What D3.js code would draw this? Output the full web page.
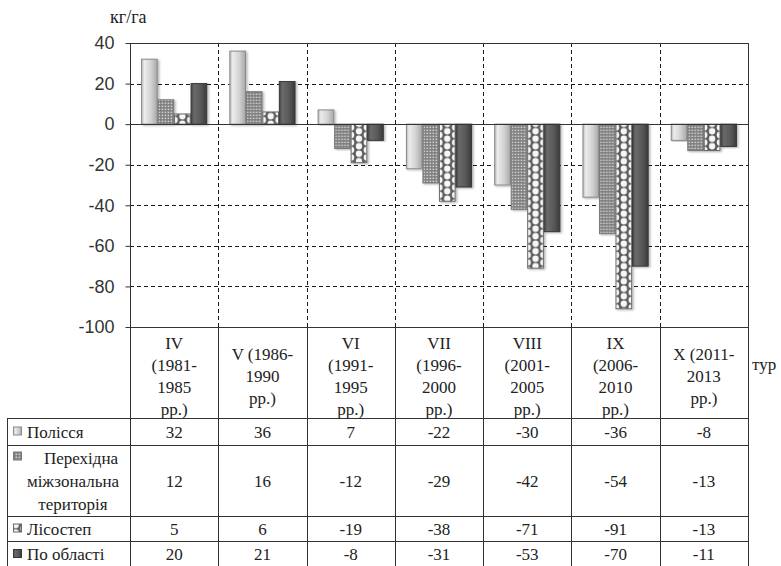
<!DOCTYPE html>
<html>
<head>
<meta charset="utf-8">
<script src="https://cdn.jsdelivr.net/npm/d3@7"></script>
<style>
  html, body { margin: 0; padding: 0; background: #fff; }
  svg { display: block; }
  .serif { font-family: "Liberation Serif", "Times New Roman", serif; }
  .sans { font-family: "Liberation Sans", Arial, sans-serif; }
</style>
</head>
<body>
<svg id="chart" width="781" height="566"></svg>
<script>
// Tour labels (multi-line, as printed under each group)
const categoryLines = [
  ["IV", "(1981-", "1985", "рр.)"],
  ["V (1986-", "1990", "рр.)"],
  ["VI", "(1991-", "1995", "рр.)"],
  ["VII", "(1996-", "2000", "рр.)"],
  ["VIII", "(2001-", "2005", "рр.)"],
  ["IX", "(2006-", "2010", "рр.)"],
  ["X (2011-", "2013", "рр.)"]
];

// Series names (row headers of the data table)
const seriesNames = [
  ["Полісся"],
  ["Перехідна", "міжзональна", "територія"],
  ["Лісостеп"],
  ["По області"]
];

// Balance values, kg/ha
const polissia   = [32, 36, 7, -22, -30, -36, -8];
const perekhidna = [12, 16, -12, -29, -42, -54, -13];
const lisostep   = [5, 6, -19, -38, -71, -91, -13];
const oblast     = [20, 21, -8, -31, -53, -70, -11];

const yTicks = [-100, -80, -60, -40, -20, 0, 20, 40];
const yUnit = "кг/га";
const xUnit = "тур";

const series = [polissia, perekhidna, lisostep, oblast];

const svg = d3.select("#chart");
const plot = { left: 130, right: 748, top: 43, bottom: 327 };
const ink = "#222";
const fmt = v => String(v).replace("\u2212", "-");

const y = d3.scaleLinear().domain([-100, 40]).range([plot.bottom, plot.top]);
const x0 = d3.scaleBand().domain(d3.range(categoryLines.length))
  .range([plot.left, plot.right]).padding(0);
const x1 = d3.scaleBand().domain(d3.range(series.length))
  .range([0, x0.bandwidth()]).paddingInner(0.05).paddingOuter(0.7);
const bw = x1.bandwidth();

// ---------- fills ----------
const defs = svg.append("defs");

const gLight = defs.append("linearGradient").attr("id", "fillLight")
  .attr("x1", "0").attr("x2", "1").attr("y1", "0").attr("y2", "0");
gLight.append("stop").attr("offset", "0").attr("stop-color", "#b9b9b9");
gLight.append("stop").attr("offset", "0.18").attr("stop-color", "#ececec");
gLight.append("stop").attr("offset", "0.6").attr("stop-color", "#d2d2d2");
gLight.append("stop").attr("offset", "1").attr("stop-color", "#a8a8a8");

const gDark = defs.append("linearGradient").attr("id", "fillDark")
  .attr("x1", "0").attr("x2", "1").attr("y1", "0").attr("y2", "0");
gDark.append("stop").attr("offset", "0").attr("stop-color", "#444");
gDark.append("stop").attr("offset", "0.2").attr("stop-color", "#6a6a6a");
gDark.append("stop").attr("offset", "0.65").attr("stop-color", "#575757");
gDark.append("stop").attr("offset", "1").attr("stop-color", "#3a3a3a");

const pDots = defs.append("pattern").attr("id", "fillDots")
  .attr("patternUnits", "userSpaceOnUse").attr("width", 3).attr("height", 3);
pDots.append("rect").attr("width", 3).attr("height", 3).attr("fill", "#7e7e7e");
pDots.append("rect").attr("x", 0.6).attr("y", 0.6).attr("width", 1.5).attr("height", 1.5).attr("fill", "#d6d6d6");

const lh = 7.5;
const pLattice = defs.append("pattern").attr("id", "fillLattice")
  .attr("patternUnits", "userSpaceOnUse").attr("width", bw).attr("height", lh);
pLattice.append("rect").attr("width", bw).attr("height", lh).attr("fill", "#5a5a5a");
[[bw / 2, lh / 2], [0, 0], [bw, 0], [0, lh], [bw, lh]].forEach(([cx, cy]) => {
  pLattice.append("circle").attr("cx", cx).attr("cy", cy).attr("r", 3.2).attr("fill", "#f6f6f6");
});

const shadow = defs.append("filter").attr("id", "shadow")
  .attr("x", "-30%").attr("y", "-10%").attr("width", "160%").attr("height", "120%");
shadow.append("feDropShadow").attr("dx", 1.5).attr("dy", 1).attr("stdDeviation", 0.8)
  .attr("flood-color", "#000").attr("flood-opacity", 0.3);

const styles = [
  { fill: "url(#fillLight)", stroke: "#8a8a8a" },
  { fill: "url(#fillDots)", stroke: "#7a7a7a" },
  { fill: "url(#fillLattice)", stroke: "#6a6a6a" },
  { fill: "url(#fillDark)", stroke: "#383838" }
];

// ---------- gridlines ----------
const grid = svg.append("g").attr("stroke", "#1a1a1a").attr("stroke-width", 1)
  .attr("stroke-dasharray", "4,3");
yTicks.filter(t => t !== 0 && t !== 40 && t !== -100).forEach(t => {
  grid.append("line").attr("x1", plot.left).attr("x2", plot.right)
    .attr("y1", Math.round(y(t)) + 0.5).attr("y2", Math.round(y(t)) + 0.5);
});
d3.range(1, categoryLines.length).forEach(i => {
  const xx = Math.round(x0(i)) + 0.5;
  grid.append("line").attr("x1", xx).attr("x2", xx).attr("y1", plot.top).attr("y2", plot.bottom);
});

// ---------- bars ----------
const bars = svg.append("g");
series.forEach((vals, s) => {
  vals.forEach((v, i) => {
    const g = bars.append("g").attr("transform", `translate(${x0(i) + x1(s)},0)`);
    const top = y(Math.max(v, 0));
    const h = Math.abs(y(v) - y(0));
    g.append("rect").attr("x", 0).attr("y", top).attr("width", bw).attr("height", h)
      .attr("fill", styles[s].fill).attr("stroke", styles[s].stroke).attr("stroke-width", 1)
      .attr("filter", "url(#shadow)");
  });
});

// ---------- axes / frame ----------
const yAxis = d3.axisLeft(y).tickValues(yTicks).tickSize(5).tickPadding(11)
  .tickFormat(d => fmt(d));
const ya = svg.append("g").attr("transform", `translate(${plot.left + 0.5},0)`).call(yAxis);
ya.attr("font-family", null).attr("font-size", null);
ya.select(".domain").remove();
ya.selectAll(".tick line").attr("stroke", "#333");
ya.selectAll(".tick text").attr("class", "sans").style("font-size", "18px").attr("fill", "#333");

const frame = svg.append("g").attr("stroke", "#333").attr("stroke-width", 1).attr("fill", "none");
frame.append("line").attr("x1", plot.left).attr("x2", plot.right)
  .attr("y1", Math.round(y(0)) + 0.5).attr("y2", Math.round(y(0)) + 0.5);
frame.append("line").attr("x1", plot.left).attr("x2", plot.right)
  .attr("y1", plot.top + 0.5).attr("y2", plot.top + 0.5);
frame.append("line").attr("x1", plot.left + 0.5).attr("x2", plot.left + 0.5)
  .attr("y1", plot.top).attr("y2", 566);
frame.append("line").attr("x1", plot.right + 0.5).attr("x2", plot.right + 0.5)
  .attr("y1", plot.top).attr("y2", 566);

const serifText = (sel, size = 17) =>
  sel.attr("class", "serif").style("font-size", size + "px").attr("fill", ink);

svg.append("text").attr("x", 110).attr("y", 23).call(serifText, 18).text(yUnit);

// ---------- data table ----------
const tableLeft = 7;
const rowEdges = [327, 418, 445, 516, 541, 567];
const table = svg.append("g").attr("stroke", "#333").attr("stroke-width", 1);
rowEdges.forEach((ry, k) => {
  table.append("line").attr("x1", k === 0 ? plot.left : tableLeft).attr("x2", plot.right + 1)
    .attr("y1", ry + 0.5).attr("y2", ry + 0.5);
});
table.append("line").attr("x1", tableLeft + 0.5).attr("x2", tableLeft + 0.5)
  .attr("y1", rowEdges[1]).attr("y2", 566);
d3.range(1, categoryLines.length).forEach(i => {
  const xx = Math.round(x0(i)) + 0.5;
  table.append("line").attr("x1", xx).attr("x2", xx).attr("y1", rowEdges[0]).attr("y2", 566);
});

// header: tour labels
const lineH = 22;
categoryLines.forEach((lines, i) => {
  const cx = x0(i) + x0.bandwidth() / 2;
  const cy = 375.5;
  const t = svg.append("text").call(serifText).attr("text-anchor", "middle");
  lines.forEach((ln, k) => {
    t.append("tspan").attr("x", cx)
      .attr("y", cy + (k - (lines.length - 1) / 2) * lineH + 6).text(ln);
  });
});
svg.append("text").attr("x", 752).attr("y", 370).call(serifText).text(xUnit);

// rows: legend key, name, values
series.forEach((vals, s) => {
  const r0 = rowEdges[s + 1], r1 = rowEdges[s + 2];
  const cy = (r0 + r1) / 2;
  const names = seriesNames[s];
  if (names.length === 1) {
    svg.append("rect").attr("x", 13.5).attr("y", cy - 4.5).attr("width", 8).attr("height", 8)
      .attr("fill", styles[s].fill).attr("stroke", styles[s].stroke);
    svg.append("text").attr("x", 27).attr("y", cy + 6).call(serifText).text(names[0]);
  } else {
    const nc = 73;
    names.forEach((ln, k) => {
      svg.append("text").attr("x", k === 0 ? nc + 8 : nc).attr("y", cy + (k - 1) * 23 + 6)
        .call(serifText).attr("text-anchor", "middle").text(ln);
    });
    svg.append("rect").attr("x", 13.5).attr("y", cy - 23 - 5.5).attr("width", 8).attr("height", 8)
      .attr("fill", styles[s].fill).attr("stroke", styles[s].stroke);
  }
  vals.forEach((v, i) => {
    svg.append("text").attr("x", x0(i) + x0.bandwidth() / 2).attr("y", cy + 6)
      .call(serifText).attr("text-anchor", "middle").text(fmt(v));
  });
});
</script>
</body>
</html>
